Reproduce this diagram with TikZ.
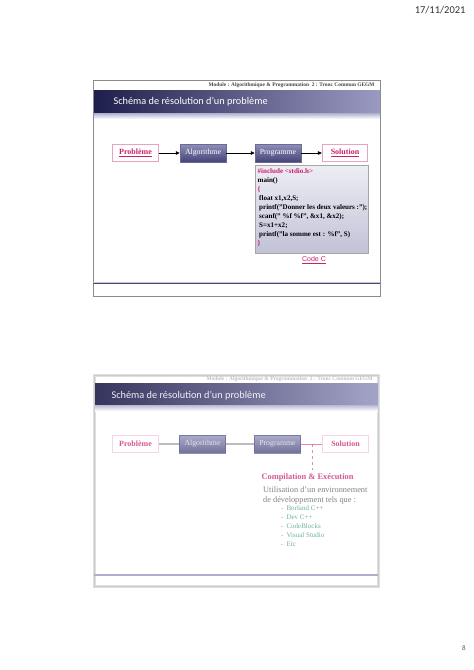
\documentclass[tikz,border=0pt]{standalone}
\usepackage{fontspec}
\setmainfont{Liberation Serif}
\newfontfamily\calibri{Carlito}
\newfontfamily\arialf{Liberation Sans}
\usetikzlibrary{arrows.meta}
\definecolor{pinkc}{HTML}{CC1F6E}
\definecolor{pinkb}{HTML}{E6A3C3}
\definecolor{navy}{HTML}{1E1E4C}
\definecolor{lav}{HTML}{9A9AC2}
\definecolor{boxdark}{HTML}{45457A}
\definecolor{boxlight}{HTML}{8E8EB8}
\definecolor{codetop}{HTML}{EDEDF4}
\definecolor{codebot}{HTML}{C2C2D8}
\definecolor{greent}{HTML}{3C9A78}
\tikzset{
  frame/.style={draw=gray!90, line width=0.8pt},
  pbox/.style={draw=pinkb, fill=white, line width=0.6pt, minimum width=45.5pt, minimum height=17.5pt, inner sep=0pt,
    font=\bfseries\fontsize{8}{9}\selectfont, text=pinkc},
  dbox/.style={draw=boxdark!80, top color=boxlight, bottom color=boxdark, minimum width=46pt, minimum height=17.5pt, inner sep=0pt,
    font=\fontsize{7.8}{9}\selectfont, text=white},
  arr/.style={-{Triangle[length=4pt,width=3.5pt]}, line width=0.8pt, black},
  hdr/.style={anchor=east, font=\bfseries\fontsize{5.4}{6}\selectfont, text=gray!55!black},
  ttl/.style={anchor=west, text=white, font=\calibri\fontsize{10.3}{12}\selectfont},
}
\begin{document}
\begin{tikzpicture}[x=1pt,y=-1pt]
\useasboundingbox (0,0) rectangle (474,670);
\fill[white] (0,0) rectangle (474,670);
\node[anchor=east, font=\calibri\fontsize{10.5}{12}\selectfont, text=black!80] (date) at (469,10) {17/11/2021};

% ---------- top slide ----------
\shade[left color=navy, right color=lav] (93,90) rectangle (380,113);
\shade[top color=lav!80, bottom color=white] (93,113) rectangle (380,119);
\draw[frame] (93,80) rectangle (380,296);
\node[hdr] (hdr1) at (378,85) {Module : Algorithmique \& Programmation\ \ 2 : Tronc Commun GEGM};
\node[ttl] (ttl1) at (110,102) {Schéma de résolution d’un problème};
\draw[navy!80, line width=1.3pt] (93,283) -- (380,283);
\draw[lav!60, line width=0.6pt] (93,281.8) -- (380,281.8);

\node[pbox] (p1) at (135.5,153) {\underline{Problème}};
\node[dbox] (a1) at (203,153) {Algorithme};
\node[dbox] (g1) at (278,153) {Programme};
\node[pbox] (s1) at (345,153) {\underline{Solution}};
\draw[arr] (p1) -- (a1);
\draw[arr] (a1) -- (g1);
\draw[arr] (g1) -- (s1);

\shade[top color=codetop, bottom color=codebot, draw=gray!70, line width=0.5pt] (255,165) rectangle (368,253);
\node[anchor=north west, inner sep=0pt, align=left, font=\bfseries\fontsize{7.05}{9}\selectfont] (code) at (257.5,168.5) {%
\textcolor{pinkc}{\#include <stdio.h>}\\
main()\\
\textcolor{pinkc}{\{}\\
\hspace{1.5pt}float x1,x2,S;\\
\hspace{1.5pt}printf("Donner les deux valeurs :");\\
\hspace{1.5pt}scanf(" \%f \%f", \&x1, \&x2);\\
\hspace{1.5pt}S=x1+x2;\\
\hspace{1.5pt}printf("la somme est : \%f", S)\\
\textcolor{pinkc}{\}}};
\node[font=\arialf\fontsize{7}{8}\selectfont, text=pinkc] (cc) at (314,260) {\underline{Code C}};

% ---------- bottom slide ----------
\draw[gray!25, line width=3pt] (94,375) rectangle (378,586);
\shade[left color=navy!90, right color=lav!90] (94,383) rectangle (378,405);
\shade[top color=lav!70, bottom color=white] (94,405) rectangle (378,411);
\draw[gray!40, line width=0.8pt] (94,375) rectangle (378,586);
\node[hdr, text=gray!50] (hdr2) at (376,379) {Module : Algorithmique \& Programmation\ \ 2 : Tronc Commun GEGM};
\node[ttl, text=white!85!lav] (ttl2) at (108,396) {Schéma de résolution d’un problème};
\draw[lav!80, line width=2pt] (94,575) -- (378,575);

\begin{scope}[opacity=0.75]
\node[pbox, draw=pinkb!60] (p2) at (135.5,444) {Problème};
\node[dbox] (a2) at (202.5,444) {Algorithme};
\node[dbox] (g2) at (277.5,444) {Programme};
\node[pbox, draw=pinkb!60] (s2) at (345.5,444) {Solution};
\draw[gray!70, line width=1.5pt] (p2) -- (a2);
\draw[gray!70, line width=1.5pt] (a2) -- (g2);
\draw[pinkc!70, line width=1pt] (g2) -- (s2);
\node[font=\bfseries\fontsize{8.4}{9}\selectfont, text=pinkc] (ce) at (307.5,477) {Compilation \& Exécution};
\coordinate (br) at (312,444);
\draw[pinkc!70, dashed, line width=0.8pt] (br) -- (ce.north -| br);
\node[anchor=north west, inner sep=0pt, align=left, font=\fontsize{8.3}{10}\selectfont, text=gray!70!black] (ut) at (263,486.5) {Utilisation d’un environnement\\de développement tels que :};
\node[anchor=north west, inner sep=0pt, align=left, font=\fontsize{7}{9}\selectfont, text=greent] (it) at (281,505.8) {%
\textcolor{gray}{-}\hspace{3pt}Borland C++\\
\textcolor{gray}{-}\hspace{3pt}Dev C++\\
\textcolor{gray}{-}\hspace{3pt}CodeBlocks\\
\textcolor{gray}{-}\hspace{3pt}Visual Studio\\
\textcolor{gray}{-}\hspace{3pt}Etc};
\end{scope}

\node[font=\calibri\fontsize{7}{8}\selectfont, text=gray!70!black] (pg) at (464,648) {8};
\end{tikzpicture}
\end{document}
